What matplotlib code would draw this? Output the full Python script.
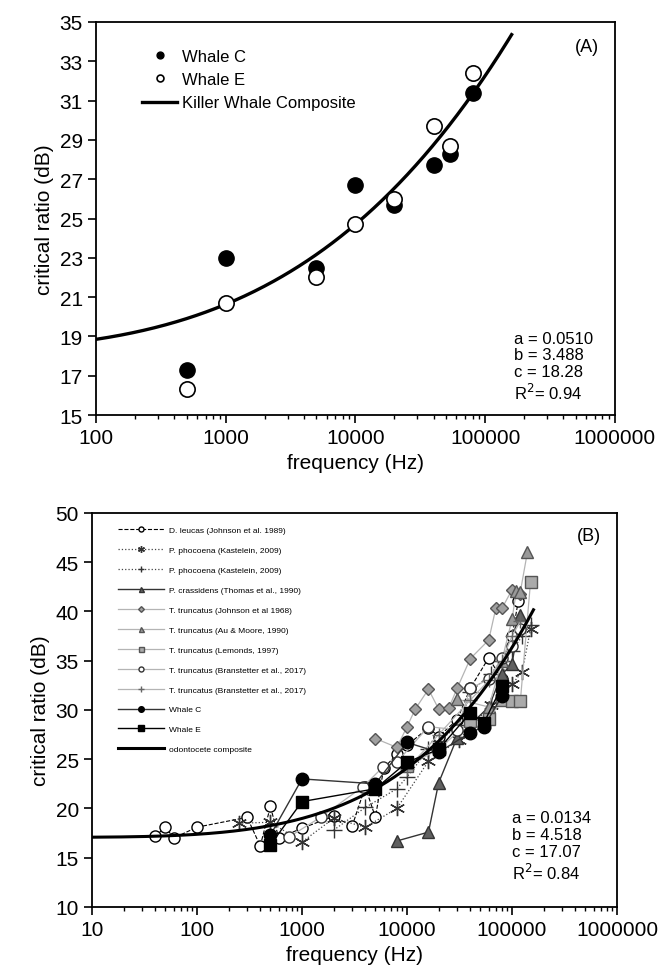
import numpy as np
import matplotlib
matplotlib.use("Agg")
import matplotlib.pyplot as plt
from matplotlib.ticker import FixedLocator, LogLocator, NullFormatter

plt.rcParams['font.family'] = ['Liberation Sans', 'DejaVu Sans']

# panel A: killer whale critical ratios
freq_whale = [500, 1000, 5000, 10000, 20000, 40000, 54000, 80000]
whale_c = [17.3, 23.0, 22.5, 26.7, 25.7, 27.7, 28.3, 31.4]
whale_e = [16.3, 20.7, 22.0, 24.7, 26.0, 29.7, 28.7, 32.4]
fit_a = [0.0510, 3.488, 18.28, 0.94]   # a, b, c, R2

# panel B: odontocete critical ratios
f_dl = [40, 50, 60, 100, 300, 400, 500, 600, 1000, 2000, 3000, 4000, 5000, 6000,
        8000, 10000, 16000, 20000, 30000, 40000, 60000, 80000, 100000, 115000]
v_dl = [17.2, 18.1, 17.0, 18.1, 19.1, 16.2, 20.2, 17.0, 18.0, 19.2, 18.2, 22.2, 19.1, 24.1,
        25.5, 26.4, 28.2, 27.3, 29.0, 32.2, 35.3, 33.1, 37.5, 41.1]
f_pp1 = [250, 500, 1000, 2000, 4000, 8000, 16000, 31500, 63000, 100000, 125000, 150000]
v_pp1 = [18.5, 18.6, 16.6, 19.0, 18.1, 20.0, 24.8, 27.0, 30.5, 32.6, 33.9, 38.2]
f_pp2 = [2000, 4000, 8000, 10000, 16000, 20000, 31500, 40000, 63000, 80000, 100000, 125000, 150000]
v_pp2 = [17.8, 20.1, 22.0, 23.2, 26.0, 26.8, 28.5, 31.8, 33.7, 35.0, 36.0, 37.5, 38.6]
f_pc = [8000, 16000, 20000, 30000, 40000, 60000, 80000, 100000, 120000]
v_pc = [16.7, 17.6, 22.6, 27.2, 28.5, 30.3, 33.6, 34.7, 39.6]
f_tj = [5000, 8000, 10000, 12000, 16000, 20000, 25000, 30000, 40000, 60000, 70000, 80000, 100000, 120000]
v_tj = [27.1, 26.2, 28.3, 30.1, 32.1, 30.1, 30.2, 32.2, 35.2, 37.1, 40.3, 40.3, 42.2, 41.8]
f_ta = [30000, 60000, 80000, 100000, 110000, 120000, 140000]
v_ta = [31.1, 30.3, 35.0, 39.2, 42.1, 42.0, 46.0]
f_tl = [10000, 20000, 40000, 60000, 80000, 100000, 120000, 150000]
v_tl = [24.3, 26.0, 28.9, 29.1, 31.0, 30.9, 30.9, 43.0]
f_tb1 = [750, 1500, 3800, 5900, 8000, 16000, 30000, 40000, 60000, 80000, 100000, 120000]
v_tb1 = [17.1, 19.1, 22.2, 24.2, 24.7, 28.3, 28.0, 32.2, 33.1, 35.3, 36.5, 38.2]
f_tb2 = [10000, 20000, 40000, 60000, 80000, 100000, 120000]
v_tb2 = [24.0, 27.5, 31.0, 33.0, 35.0, 37.5, 39.0]
fit_b = [0.0134, 4.518, 17.07, 0.84]

fig = plt.figure(figsize=(6.61, 9.78), dpi=100)
axA = fig.add_axes([0.1452, 0.5746, 0.785, 0.4019])
axB = fig.add_axes([0.1392, 0.0716, 0.7943, 0.4029])

def composite(fit, fmin, fmax):
    f = np.logspace(np.log10(fmin), np.log10(fmax), 300)
    return f, fit[2] + fit[0] * np.log10(f) ** fit[1]

# ---- panel A ----
axA.plot(freq_whale, whale_c, 'o', ms=11, mfc='black', mec='black', label='Whale C', zorder=3)
axA.plot(freq_whale, whale_e, 'o', ms=11, mfc='white', mec='black', mew=1.2, label='Whale E', zorder=4)
fx, fy = composite(fit_a, 100, 160000)
axA.plot(fx, fy, color='black', lw=2.4, label='Killer Whale Composite', zorder=2)
axA.set_xscale('log')
axA.set_xlim(100, 1e6)
axA.set_ylim(15, 35)
axA.yaxis.set_major_locator(FixedLocator(np.arange(15, 36, 2)))
axA.legend(loc='upper left', bbox_to_anchor=(0.06, 0.97), frameon=False, fontsize=12,
           markerscale=0.45, handlelength=2.1, labelspacing=0.5, handletextpad=0.3)
axA.text(0.97, 0.96, '(A)', transform=axA.transAxes, ha='right', va='top', fontsize=13)
axA.text(0.805, 0.215, 'a = %.4f\nb = %.3f\nc = %.2f\nR$^2$= %.2f' % tuple(fit_a),
         transform=axA.transAxes, ha='left', va='top', fontsize=12, linespacing=1.15)
axA.set_xlabel('frequency (Hz)', fontsize=15)
axA.set_ylabel('critical ratio (dB)', fontsize=15)

# ---- panel B ----
lg = '#b4b4b4'
axB.plot(f_dl, v_dl, '--', color='black', lw=0.8, marker='o', ms=8, mfc='white', mec='black',
         label='D. leucas (Johnson et al. 1989)')
axB.plot(f_pp1, v_pp1, ':', color='#444444', lw=0.9, marker=(6, 2, 0), ms=11, mec='#333333',
         label='P. phocoena (Kastelein, 2009)')
axB.plot(f_pp2, v_pp2, ':', color='#444444', lw=0.9, marker='+', ms=11, mec='#333333',
         label='P. phocoena (Kastelein, 2009)')
axB.plot(f_pc, v_pc, '-', color='#333333', lw=1.0, marker='^', ms=8, mfc='#606060', mec='#333333',
         label='P. crassidens (Thomas et al., 1990)')
axB.plot(f_tj, v_tj, '-', color=lg, lw=0.9, marker='D', ms=6.5, mfc='#a0a0a0', mec='#555555',
         label='T. truncatus (Johnson et al 1968)')
axB.plot(f_ta, v_ta, '-', color=lg, lw=0.9, marker='^', ms=8, mfc='#999999', mec='#555555',
         label='T. truncatus (Au & Moore, 1990)')
axB.plot(f_tl, v_tl, '-', color=lg, lw=0.9, marker='s', ms=8, mfc='#aaaaaa', mec='#555555',
         label='T. truncatus (Lemonds, 1997)')
axB.plot(f_tb1, v_tb1, '-', color=lg, lw=0.9, marker='o', ms=8, mfc='white', mec='#333333',
         label='T. truncatus (Branstetter et al., 2017)')
axB.plot(f_tb2, v_tb2, '-', color=lg, lw=0.9, marker='+', ms=10, mec='#666666',
         label='T. truncatus (Branstetter et al., 2017)')
axB.plot(freq_whale, whale_c, '-', color='#333333', lw=1.0, marker='o', ms=9, mfc='black', mec='black',
         label='Whale C')
axB.plot(freq_whale, whale_e, '-', color='black', lw=1.0, marker='s', ms=9, mfc='black', mec='black',
         label='Whale E')
bx, by = composite(fit_b, 10, 160000)
axB.plot(bx, by, color='black', lw=2.2, label='odontocete composite')
axB.set_xscale('log')
axB.set_xlim(10, 1e6)
axB.set_ylim(10, 50)
axB.yaxis.set_major_locator(FixedLocator(np.arange(10, 51, 5)))
axB.legend(loc='upper left', bbox_to_anchor=(0.035, 0.985), frameon=False, fontsize=6,
           markerscale=0.45, handlelength=5.5, labelspacing=1.45, handletextpad=0.6)
axB.text(0.97, 0.965, '(B)', transform=axB.transAxes, ha='right', va='top', fontsize=13)
axB.text(0.8, 0.245, 'a = %.4f\nb = %.3f\nc = %.2f\nR$^2$= %.2f' % tuple(fit_b),
         transform=axB.transAxes, ha='left', va='top', fontsize=12, linespacing=1.15)
axB.set_xlabel('frequency (Hz)', fontsize=15)
axB.set_ylabel('critical ratio (dB)', fontsize=15)

for ax in (axA, axB):
    for s in ax.spines.values():
        s.set_linewidth(1.3)
    ax.xaxis.set_major_locator(LogLocator(base=10, numticks=10))
    ax.xaxis.set_minor_locator(LogLocator(base=10, subs=np.arange(2, 10), numticks=10))
    ax.xaxis.set_minor_formatter(NullFormatter())
    ax.xaxis.set_major_formatter(plt.FuncFormatter(lambda v, p: '%d' % round(v)))
    ax.tick_params(which='major', direction='out', length=6, width=1.2, labelsize=15, top=False, right=False)
    ax.tick_params(which='minor', direction='out', length=3, width=1.0, top=False, right=False)

plt.savefig('out.png', dpi=100)
